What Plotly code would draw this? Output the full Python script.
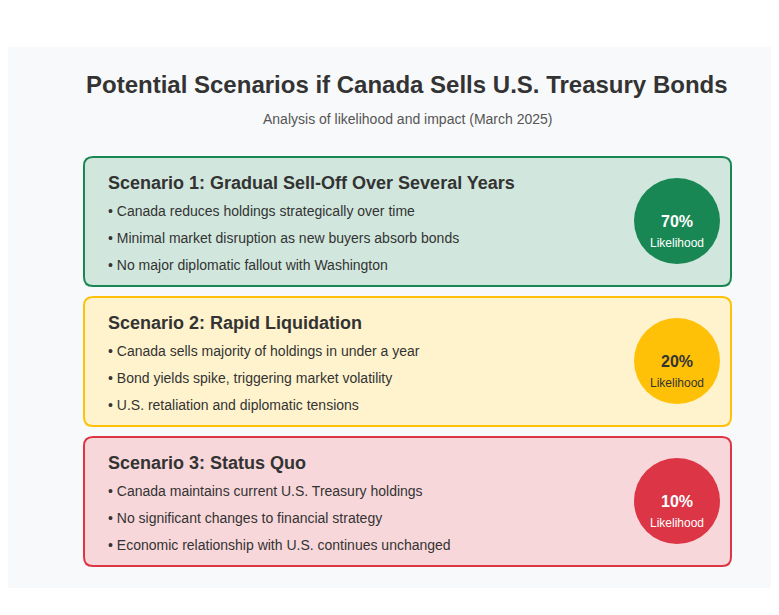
import plotly.graph_objects as go

# ---- data ----
title = "Potential Scenarios if Canada Sells U.S. Treasury Bonds"
subtitle = "Analysis of likelihood and impact (March 2025)"
scenario_titles = [
    "Scenario 1: Gradual Sell-Off Over Several Years",
    "Scenario 2: Rapid Liquidation",
    "Scenario 3: Status Quo",
]
scenario_bullets = [
    ["Canada reduces holdings strategically over time",
     "Minimal market disruption as new buyers absorb bonds",
     "No major diplomatic fallout with Washington"],
    ["Canada sells majority of holdings in under a year",
     "Bond yields spike, triggering market volatility",
     "U.S. retaliation and diplomatic tensions"],
    ["Canada maintains current U.S. Treasury holdings",
     "No significant changes to financial strategy",
     "Economic relationship with U.S. continues unchanged"],
]
likelihood = [70, 20, 10]

# ---- styles ----
fills = ["#d1e7dd", "#fff3cd", "#f8d7da"]
borders = ["#198754", "#ffc107", "#dc3545"]
circle_cols = ["#198754", "#ffc107", "#dc3545"]
circle_text = ["white", "#333333", "white"]

W, H = 779, 615
OFF = 8  # page body margin shifts the figure by 8px
fig = go.Figure()


def rounded_rect(x0, y0, x1, y1, r):
    return (f"M{x0+r},{y0} L{x1-r},{y0} Q{x1},{y0} {x1},{y0+r} "
            f"L{x1},{y1-r} Q{x1},{y1} {x1-r},{y1} L{x0+r},{y1} "
            f"Q{x0},{y1} {x0},{y1-r} L{x0},{y0+r} Q{x0},{y0} {x0+r},{y0} Z")


shapes = [dict(type="rect", x0=0, x1=W + OFF, y0=47, y1=588,
               fillcolor="#f8f9fa", line=dict(width=0), layer="below")]
annotations = [
    dict(x=407, y=84, text="<b>" + title + "</b>", showarrow=False,
         font=dict(size=24, color="#333333")),
    dict(x=407, y=119, text=subtitle, showarrow=False,
         font=dict(size=14, color="#555555")),
]

for i, (t, bullets, p) in enumerate(zip(scenario_titles, scenario_bullets, likelihood)):
    top = 157 + i * 140
    shapes.append(dict(type="path", path=rounded_rect(84, top, 731, top + 129, 9),
                       fillcolor=fills[i], line=dict(color=borders[i], width=2)))
    shapes.append(dict(type="circle", x0=634, x1=720, y0=top + 21, y1=top + 107,
                       fillcolor=circle_cols[i], line=dict(width=0)))
    annotations.append(dict(x=106, y=top + 26, text="<b>" + t + "</b>", showarrow=False,
                            xanchor="left", font=dict(size=18, color="#333333")))
    for j, b in enumerate(bullets):
        annotations.append(dict(x=106, y=top + 54 + j * 27, text="• " + b,
                                showarrow=False, xanchor="left",
                                font=dict(size=14, color="#333333")))
    annotations.append(dict(x=677, y=top + 64, text=f"<b>{p}%</b>", showarrow=False,
                            font=dict(size=16, color=circle_text[i])))
    annotations.append(dict(x=677, y=top + 86, text="Likelihood", showarrow=False,
                            font=dict(size=12, color=circle_text[i])))

fig.update_layout(
    width=W, height=H, margin=dict(l=0, r=0, t=0, b=0),
    paper_bgcolor="white", plot_bgcolor="white",
    font=dict(family="Liberation Sans, Arial, sans-serif"),
    xaxis=dict(range=[OFF, W + OFF], visible=False, fixedrange=True),
    yaxis=dict(range=[H + OFF, OFF], visible=False, fixedrange=True),
    shapes=shapes, annotations=annotations, showlegend=False,
)
fig.write_html("out.html")
